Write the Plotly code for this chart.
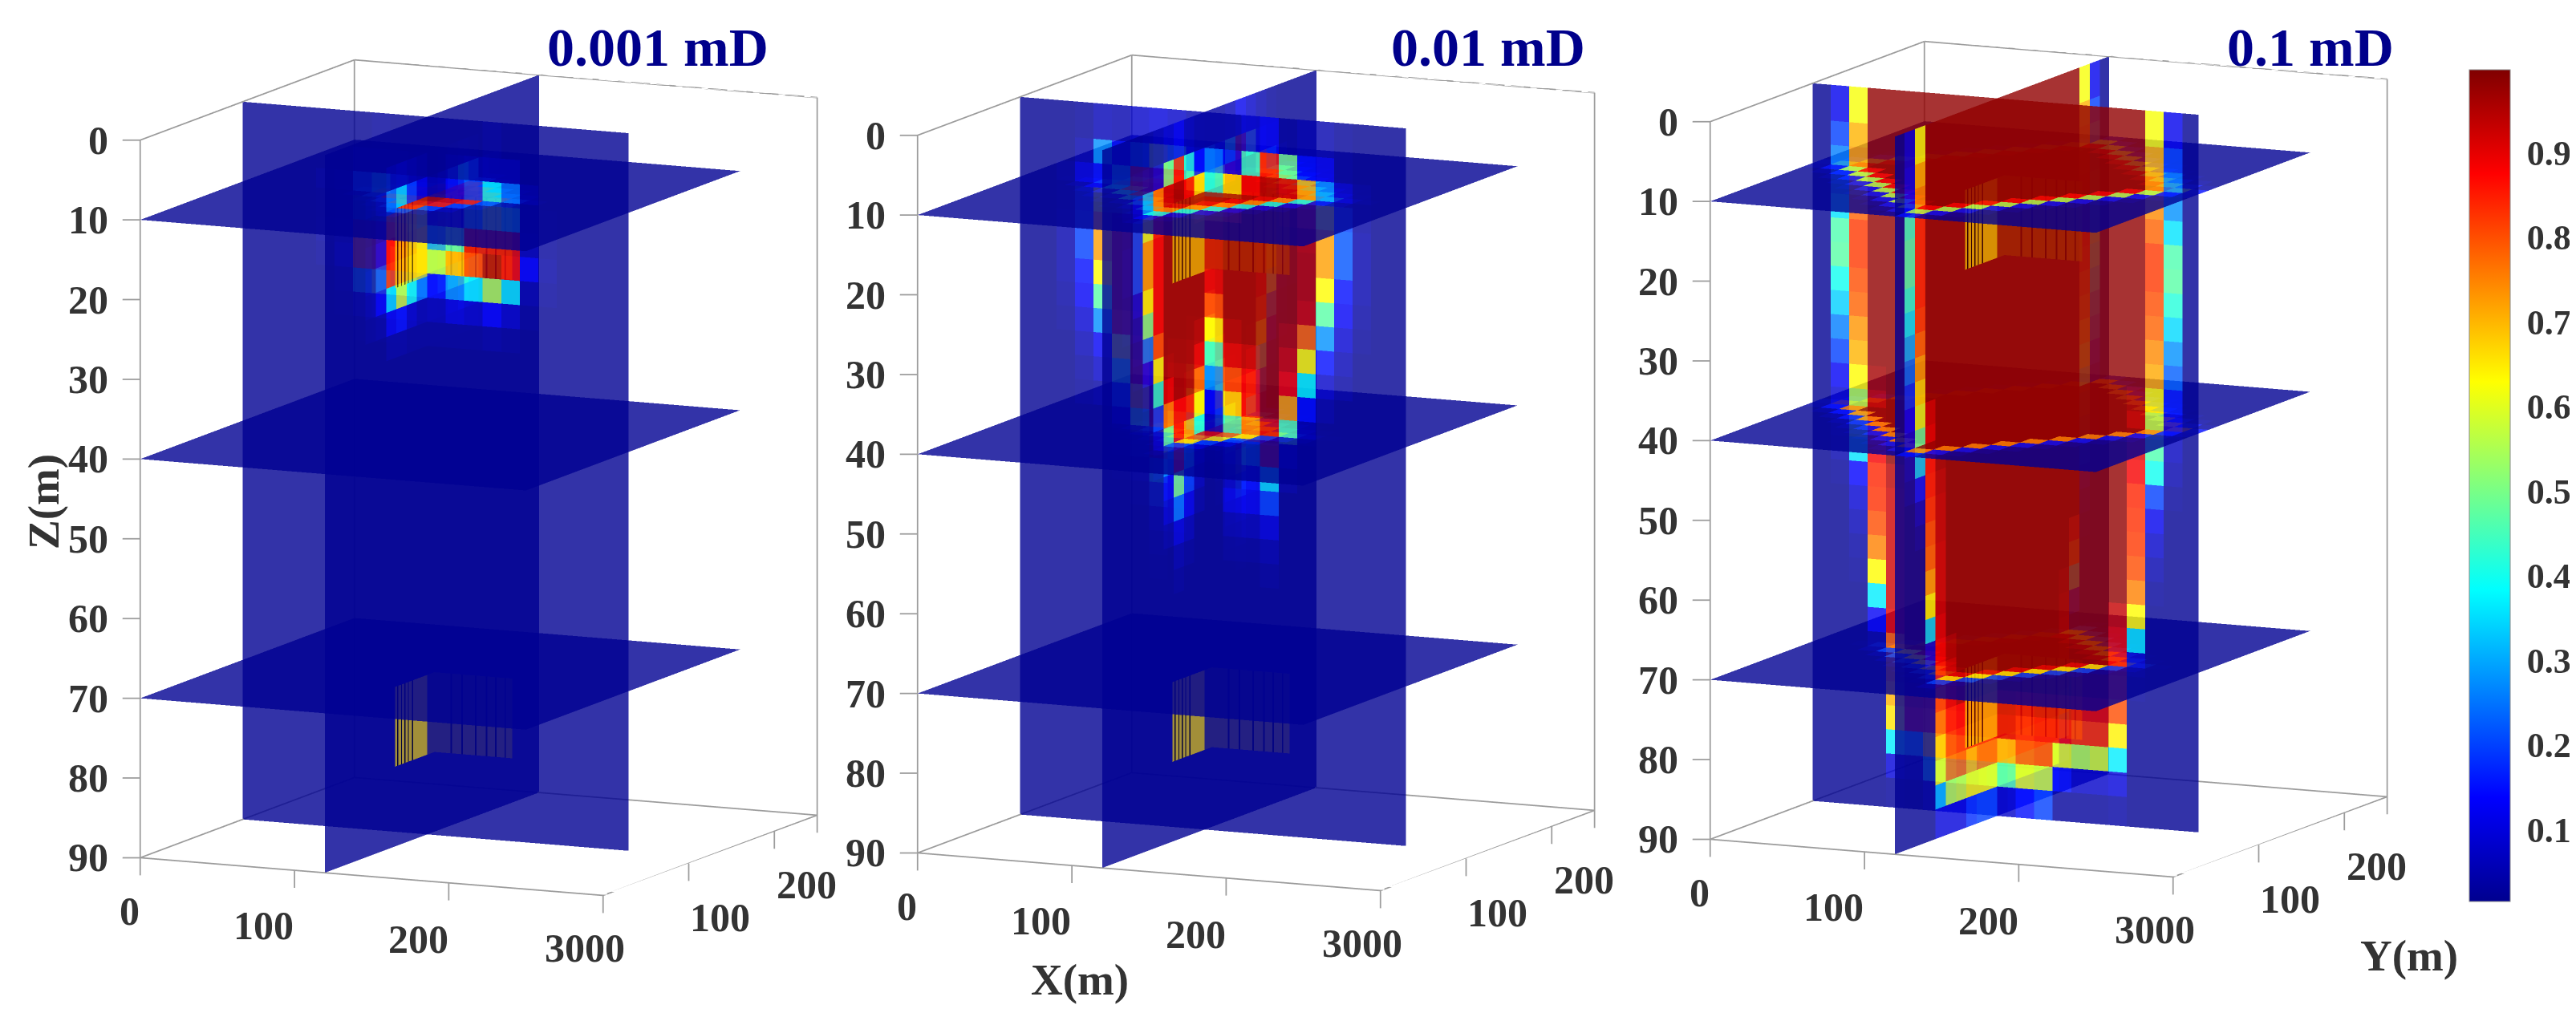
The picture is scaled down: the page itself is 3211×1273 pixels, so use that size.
import numpy as np
import plotly.graph_objects as go

# Tick values of the three boxes
x_ticks = [0, 100, 200, 300]
y_ticks = [0, 100, 200]
z_ticks = [0, 10, 20, 30, 40, 50, 60, 70, 80, 90]
colorbar_ticks = [0.1, 0.2, 0.3, 0.4, 0.5, 0.6, 0.7, 0.8, 0.9]
panel_titles = ["0.001 mD", "0.01 mD", "0.1 mD"]

# Model cells and slice positions (m)
x_edges = [0, 11.6] + [11.6 + 12 * k for k in range(1, 20)] + [250]
y_edges = list(x_edges)
z_edges = [0] + [4.5 + 3.03 * k for k in range(28)] + [90]
slice_x = 119.6
slice_y = 119.6
slice_z = [10, 40, 70]

# Saturation in percent, read cell by cell. Vertical slices are one list per
# column from the top row down, short lists continue with the 2% background.
p1_y_slice = [
    [], [], [], [],
    [2, 2, 3, 3, 4, 3],
    [2, 2, 4, 5, 8, 12, 5, 3],
    [2, 5, 22, 35, 80, 80, 30, 8, 3],
    [3, 5, 30, 45, 85, 85, 50, 12, 4],
    [2, 4, 18, 30, 85, 75, 35, 8, 3],
    [2, 3, 12, 15, 45, 62, 25, 6, 3],
    [2, 2, 5, 12, 30, 55, 15, 6, 3],
    [2, 3, 12, 15, 45, 70, 28, 10, 3],
    [2, 4, 20, 30, 90, 82, 38, 8, 3],
    [3, 5, 38, 50, 90, 95, 55, 14, 4],
    [2, 5, 25, 40, 90, 88, 36, 8, 3],
    [2, 2, 4, 5, 6, 14, 5, 3],
    [2, 2, 2, 3, 3, 4, 3],
    [], [], [], [],
]
p1_x_slice = [
    [], [], [], [],
    [2, 2, 3, 3, 4, 5, 4, 3],
    [2, 2, 5, 8, 12, 20, 12, 4],
    [2, 4, 25, 80, 87, 85, 35, 12, 4],
    [2, 5, 35, 85, 85, 80, 58, 15, 4],
    [2, 4, 20, 70, 75, 70, 40, 8, 3],
    [2, 3, 10, 45, 65, 65, 25, 5, 3],
    [2, 2, 5, 12, 30, 55, 15, 6, 3],
    [2, 3, 10, 45, 65, 65, 25, 5, 3],
    [2, 4, 20, 70, 75, 70, 40, 8, 3],
    [2, 5, 35, 85, 85, 80, 58, 15, 4],
    [2, 4, 25, 80, 87, 85, 35, 12, 4],
    [2, 2, 5, 8, 12, 20, 12, 4],
    [2, 2, 3, 3, 4, 5, 4, 3],
    [], [], [], [],
]
p2_y_slice = [
    [], [],
    [2, 2, 3, 4, 5, 5, 5, 4, 3],
    [3, 5, 10, 18, 20, 20, 15, 13, 9, 6, 4, 3],
    [6, 28, 15, 60, 72, 72, 63, 47, 28, 13, 8, 4],
    [5, 15, 30, 60, 90, 90, 90, 90, 85, 60, 42, 22, 10, 5, 3],
    [8, 25, 85, 95, 97, 97, 97, 97, 95, 92, 88, 70, 47, 20, 8, 4],
    [10, 55, 90] + [97] * 9 + [90, 85, 35, 20, 10, 5, 3],
    [8, 45, 88] + [97] * 6 + [93, 88, 86, 74, 28, 12, 8, 5],
    [5, 15, 65, 85, 97, 97, 97, 97, 95, 90, 80, 65, 42, 10, 5],
    [4, 25, 42, 80, 93, 93, 90, 80, 63, 45, 28, 13, 7, 3],
    [4, 12, 65, 85, 97, 97, 97, 97, 95, 90, 80, 65, 45, 10, 6, 10, 5, 3],
    [8, 42, 88] + [97] * 6 + [93, 88, 86, 74, 30, 15, 12, 6, 3],
    [12, 85, 95] + [97] * 9 + [90, 85, 35, 20, 10, 5, 3],
    [3, 50, 92, 95, 97, 97, 97, 97, 95, 92, 88, 72, 47, 10, 4],
    [5, 15, 72, 85, 93, 94, 94, 92, 78, 63, 38, 15, 5, 3],
    [5, 12, 28, 60, 72, 72, 63, 47, 28, 15, 8, 4],
    [3, 3, 8, 20, 22, 22, 15, 13, 9, 6, 4],
    [2, 2, 3, 4, 5, 5, 5, 4, 3],
    [], [],
]
p2_x_slice = [
    [], [],
    [2, 2, 3, 3, 4, 4, 3, 3],
    [2, 3, 8, 20, 20, 20, 10, 6, 4, 3],
    [3, 5, 30, 60, 72, 72, 63, 50, 25, 12, 5, 3],
    [5, 10, 75, 85, 88, 88, 88, 88, 80, 62, 42, 20, 8, 4],
    [8, 50, 92, 95, 97, 97, 97, 97, 97, 96, 90, 75, 48, 25, 12, 8, 4],
    [12, 85, 96] + [97] * 8 + [88, 87, 85, 50, 25, 10, 5, 3],
    [6, 42, 88] + [97] * 7 + [96, 88, 72, 30, 20, 12, 6, 3],
    [4, 15, 66, 85, 97, 97, 97, 97, 95, 90, 77, 63, 42, 10, 6, 4],
    [4, 25, 42, 80, 93, 93, 90, 80, 63, 45, 28, 13, 7, 3],
    [4, 15, 66, 85, 97, 97, 97, 97, 95, 90, 77, 63, 42, 10, 6, 4],
    [6, 42, 88] + [97] * 7 + [96, 88, 72, 30, 20, 12, 6, 3],
    [12, 85, 96] + [97] * 8 + [88, 87, 85, 50, 25, 10, 5, 3],
    [8, 50, 92, 95, 97, 97, 97, 97, 97, 96, 90, 75, 48, 25, 12, 8, 4],
    [5, 10, 75, 85, 88, 88, 88, 88, 80, 62, 42, 20, 8, 4],
    [3, 5, 30, 60, 72, 72, 63, 50, 25, 12, 5, 3],
    [2, 3, 8, 20, 20, 20, 10, 6, 4, 3],
    [2, 2, 3, 3, 4, 4, 3, 3],
    [], [],
]
p3_y_slice = [
    [],
    [12, 20, 26, 30, 36, 46, 47, 40, 34, 26, 20, 13, 9, 7, 5, 3],
    [62, 70, 72, 74, 78, 82, 82, 80, 78, 73, 70, 63, 55, 46, 36, 14, 9, 6, 4, 3],
    [98] * 11 + [96, 93, 91, 88, 84, 83, 80, 75, 63, 37, 13, 4],
    [98] * 15 + [94, 92, 92, 92, 92, 92, 90, 78, 75, 70, 65, 37, 10, 3],
    [98] * 24 + [92, 88, 30, 6],
    [98] * 24 + [90, 85, 65, 35, 8],
    [98] * 24 + [90, 85, 65, 35, 8],
    [98] * 24 + [90, 85, 65, 35, 8],
    [98] * 24 + [92, 90, 70, 42, 8],
    [98] * 24 + [92, 90, 70, 47, 8],
    [98] * 24 + [90, 85, 80, 60, 15, 3],
    [98] * 24 + [92, 88, 82, 58, 20, 3],
    [98] * 24 + [92, 88, 60, 15, 3],
    [98] * 23 + [95, 90, 83, 55, 8, 3],
    [98] * 23 + [95, 90, 83, 58, 8, 3],
    [98] * 20 + [93, 90, 88, 85, 80, 64, 37, 10, 4],
    [98] * 11 + [96, 93, 91, 88, 84, 83, 82, 80, 75, 63, 36, 8, 3],
    [62, 70, 72, 74, 78, 82, 82, 80, 78, 74, 71, 63, 55, 46, 40, 20, 12, 8, 5, 3],
    [12, 20, 26, 28, 36, 46, 47, 42, 35, 28, 23, 16, 10, 7, 5, 3],
    [],
]
p3_x_slice = [
    [],
    [10, 12, 14, 44, 46, 46, 42, 36, 30, 24, 18, 14, 10, 6, 4],
    [62, 70, 74, 84, 84, 84, 84, 82, 78, 72, 66, 60, 48, 33, 15, 7, 4],
    [98] * 11 + [92, 90, 86, 85, 83, 80, 78, 72, 63, 35, 10, 4],
    [98] * 13 + [96, 94, 93, 93, 92, 92, 92, 90, 88, 85, 80, 75, 68, 62, 32, 10, 3],
    [98] * 21 + [95, 92, 90, 85, 82, 78, 56, 10, 3],
    [98] * 23 + [95, 88, 85, 80, 58, 10, 3],
    [98] * 24 + [90, 85, 72, 63, 18, 3],
    [98] * 24 + [90, 85, 78, 63, 20, 3],
    [98] * 24 + [90, 85, 78, 62, 20, 3],
    [98] * 24 + [92, 90, 70, 47, 8],
    [98] * 24 + [90, 88, 75, 55, 15, 3],
    [98] * 24 + [90, 88, 75, 55, 15, 3],
    [98] * 24 + [90, 88, 75, 55, 15, 3],
    [98] * 24 + [90, 88, 75, 55, 15, 3],
    [98] * 24 + [90, 88, 75, 55, 15, 3],
    [98] * 20 + [93, 90, 88, 85, 80, 64, 37, 10, 4],
    [98] * 18 + [85, 75, 45, 15, 4],
    [62, 70, 72, 78, 82, 84, 84, 82, 78, 74, 68, 60, 52, 45, 35, 20, 10, 6, 3],
    [12, 20, 26, 30, 36, 46, 47, 42, 35, 28, 23, 16, 10, 7, 5, 3],
    [],
]

# Horizontal slices: the coloured rows around the middle of the grid, front to back
p1_z10 = [
    [5], [5, 20, 5], [5, 20, 85, 20, 5], [5, 20, 85, 90, 85, 20, 5],
    [5, 20, 85, 90, 95, 90, 85, 20, 5], [5, 20, 85, 90, 95, 95, 95, 90, 85, 20, 5],
    [5, 20, 85, 90, 95, 90, 85, 20, 5], [5, 20, 85, 90, 85, 20, 5], [5, 20, 85, 20, 5],
    [5, 20, 5], [5],
]
p1_z40 = []
p1_z70 = []
p2_z10 = [
    [4], [4, 12, 4], [4, 12, 40, 12, 4], [4, 12, 40, 74, 40, 12, 4],
    [4, 12, 40, 74, 90, 74, 40, 12, 4], [4, 12, 40, 74, 90, 96, 90, 74, 40, 12, 4],
    [4, 12, 40, 74, 90] + [96] * 3 + [90, 74, 40, 12, 4],
    [4, 12, 40, 74, 90] + [96] * 5 + [90, 74, 40, 12, 4],
    [4, 12, 40, 74, 90] + [96] * 7 + [90, 74, 40, 12, 4],
    [4, 12, 40, 74, 90] + [96] * 5 + [90, 74, 40, 12, 4],
    [4, 12, 40, 74, 90] + [96] * 3 + [90, 74, 40, 12, 4],
    [4, 12, 40, 74, 90, 96, 90, 74, 40, 12, 4],
    [4, 12, 40, 74, 90, 74, 40, 12, 4], [4, 12, 40, 74, 40, 12, 4], [4, 12, 40, 12, 4],
    [4, 12, 4], [4],
]
p2_z40 = [
    [3], [3, 8, 3], [3, 8, 20, 8, 3], [3, 8, 20, 65, 20, 8, 3],
    [3, 8, 20, 65, 80, 65, 20, 8, 3], [3, 8, 20, 65, 80, 90, 80, 65, 20, 8, 3],
    [3, 8, 20, 65, 80, 90, 90, 90, 80, 65, 20, 8, 3],
    [3, 8, 20, 65, 80, 90, 80, 65, 20, 8, 3], [3, 8, 20, 65, 80, 65, 20, 8, 3],
    [3, 8, 20, 65, 20, 8, 3], [3, 8, 20, 8, 3], [3, 8, 3], [3],
]
p2_z70 = []
p3_z10 = [
    [4, 15, 4], [4, 15, 55, 15, 4], [4, 15, 55, 88, 55, 15, 4],
    [4, 15, 55, 88, 98, 88, 55, 15, 4],
    [4, 15, 55, 88] + [98] * 3 + [88, 55, 15, 4],
    [4, 15, 55, 88] + [98] * 5 + [88, 55, 15, 4],
    [4, 15, 55, 88] + [98] * 7 + [88, 55, 15, 4],
    [4, 15, 55, 88] + [98] * 9 + [88, 55, 15, 4],
    [4, 15, 55, 88] + [98] * 11 + [88, 55, 15, 4],
    [4, 15, 55, 88] + [98] * 13 + [88, 55, 15, 4],
    [15, 55, 88] + [98] * 15 + [88, 55, 15],
    [4, 15, 55, 88] + [98] * 13 + [88, 55, 15, 4],
    [4, 15, 55, 88] + [98] * 11 + [88, 55, 15, 4],
    [4, 15, 55, 88] + [98] * 9 + [88, 55, 15, 4],
    [4, 15, 55, 88] + [98] * 7 + [88, 55, 15, 4],
    [4, 15, 55, 88] + [98] * 5 + [88, 55, 15, 4],
    [4, 15, 55, 88] + [98] * 3 + [88, 55, 15, 4],
    [4, 15, 55, 88, 98, 88, 55, 15, 4],
    [4, 15, 55, 88, 55, 15, 4], [4, 15, 55, 15, 4], [4, 15, 4],
]
p3_z40 = [
    [4, 15, 4], [4, 15, 75, 15, 4], [4, 15, 75, 98, 75, 15, 4],
    [4, 15, 75] + [98] * 3 + [75, 15, 4],
    [4, 15, 75] + [98] * 5 + [75, 15, 4],
    [4, 15, 75] + [98] * 7 + [75, 15, 4],
    [4, 15, 75] + [98] * 9 + [75, 15, 4],
    [4, 15, 75] + [98] * 11 + [75, 15, 4],
    [4, 15, 75] + [98] * 13 + [75, 15, 4],
    [4, 15, 75] + [98] * 15 + [75, 15, 4],
    [15, 75] + [98] * 17 + [75, 15],
    [4, 15, 75] + [98] * 15 + [75, 15, 4],
    [4, 15, 75] + [98] * 13 + [75, 15, 4],
    [4, 15, 75] + [98] * 11 + [75, 15, 4],
    [4, 15, 75] + [98] * 9 + [75, 15, 4],
    [4, 15, 75] + [98] * 7 + [75, 15, 4],
    [4, 15, 75] + [98] * 5 + [75, 15, 4],
    [4, 15, 75] + [98] * 3 + [75, 15, 4],
    [4, 15, 75, 98, 75, 15, 4], [4, 15, 75, 15, 4], [4, 15, 4],
]
p3_z70 = [
    [4], [4, 20, 4], [4, 20, 65, 20, 4], [4, 20, 65, 90, 65, 20, 4],
    [4, 20, 65, 90, 98, 90, 65, 20, 4],
    [4, 20, 65, 90] + [98] * 3 + [90, 65, 20, 4],
    [4, 20, 65, 90] + [98] * 5 + [90, 65, 20, 4],
    [4, 20, 65, 90] + [98] * 7 + [90, 65, 20, 4],
    [4, 20, 65, 90] + [98] * 9 + [90, 65, 20, 4],
    [4, 20, 65, 90] + [98] * 7 + [90, 65, 20, 4],
    [4, 20, 65, 90] + [98] * 5 + [90, 65, 20, 4],
    [4, 20, 65, 90] + [98] * 3 + [90, 65, 20, 4],
    [4, 20, 65, 90, 98, 90, 65, 20, 4],
    [4, 20, 65, 90, 65, 20, 4], [4, 20, 65, 20, 4], [4, 20, 4], [4],
]

# Striped fracture ribbons: edges along the ribbon, 1 = yellow, 0 = black line
ribbon_depths = [[10, 20], [70, 80]]
ribbon_y_edges = [82, 84.5, 85.7, 89, 90.2, 93, 94.2, 97, 98.2, 102, 103.2, 128]
ribbon_y_flags = [1, 0, 1, 0, 1, 0, 1, 0, 1, 0, 1]
ribbon_x_edges = [119.6, 130, 131, 137, 138, 146, 147, 153, 154, 159, 160, 165, 166, 170]
ribbon_x_flags = [1, 0, 1, 0, 1, 0, 1, 0, 1, 0, 1, 0, 1]

JET = [[0, "#00008f"], [0.125, "#0000ff"], [0.375, "#00ffff"],
       [0.625, "#ffff00"], [0.875, "#ff0000"], [1, "#800000"]]
STRIPE = [[0, "#000000"], [1, "#ffe000"]]
FONT = "Liberation Serif"
FLAT = dict(ambient=1, diffuse=0, specular=0, roughness=1, fresnel=0)


def vertical_grid(cols):
    return np.array([(c + [2] * 30)[:30] for c in cols], dtype=float) / 100


def horizontal_grid(rows):
    grid = np.full((21, 21), 2.0)
    top = (21 - len(rows)) // 2
    for j, row in enumerate(rows):
        left = (21 - len(row)) // 2
        grid[top + j, left:left + len(row)] = row
    return grid / 100


def cell_mesh(u_edges, v_edges, vals, to_xyz, u_lim, v_lim, **kw):
    # one quad per clipped cell, coloured by its own value
    xs, ys, zs, i, j, k, cell = [], [], [], [], [], [], []
    for a in range(len(u_edges) - 1):
        u0, u1 = max(u_edges[a], u_lim[0]), min(u_edges[a + 1], u_lim[1])
        if u1 <= u0:
            continue
        for b in range(len(v_edges) - 1):
            v0, v1 = max(v_edges[b], v_lim[0]), min(v_edges[b + 1], v_lim[1])
            if v1 <= v0:
                continue
            n = len(xs)
            for u, v in [(u0, v0), (u1, v0), (u1, v1), (u0, v1)]:
                px, py, pz = to_xyz(u, v)
                xs.append(px)
                ys.append(py)
                zs.append(pz)
            i += [n, n]
            j += [n + 1, n + 2]
            k += [n + 2, n + 3]
            cell += [vals[a][b], vals[a][b]]
    return go.Mesh3d(x=xs, y=ys, z=zs, i=i, j=j, k=k, intensity=cell, intensitymode="cell",
                     lighting=FLAT, flatshading=True, hoverinfo="skip", **kw)


def panel_pieces(x_cols, y_cols, z_rows):
    # painter's order: camera sits at +x, -y and above, so transparent pieces
    # are sorted back to front over the slices that split them
    jet = dict(colorscale=JET, cmin=0.015, cmax=0.998, opacity=0.8, showscale=False)
    stripe = dict(colorscale=STRIPE, cmin=0, cmax=1, opacity=0.62, showscale=False)
    pieces = []
    z_bands = [[0, slice_z[0]], [slice_z[0], slice_z[1]], [slice_z[1], slice_z[2]], [slice_z[2], 90]]
    x_parts = [(0, [0, slice_x]), (2, [slice_x, 250])]
    y_parts = [(2, [0, slice_y]), (0, [slice_y, 250])]

    x_vals = vertical_grid(x_cols)
    y_vals = vertical_grid(y_cols)
    for band in z_bands:
        depth = sum(band) / 2
        for y_side, y_lim in y_parts:
            m = cell_mesh(y_edges, z_edges, x_vals, lambda u, v: (slice_x, u, -v), y_lim, band, **jet)
            pieces.append(((y_side, 1, -depth), m))
        for x_side, x_lim in x_parts:
            m = cell_mesh(x_edges, z_edges, y_vals, lambda u, v: (u, slice_y, -v), x_lim, band, **jet)
            pieces.append(((1, x_side, -depth), m))
    for level, rows in zip(slice_z, z_rows):
        vals = horizontal_grid(rows).T
        for y_side, y_lim in y_parts:
            for x_side, x_lim in x_parts:
                m = cell_mesh(x_edges, y_edges, vals, lambda u, v, h=level: (u, v, -h), x_lim, y_lim, **jet)
                pieces.append(((y_side, x_side, -level), m))

    for band in ribbon_depths:
        depth = sum(band) / 2
        flags = [[f, f] for f in ribbon_y_flags]
        for y_side, y_lim in [(2, [0, slice_y]), (0, [slice_y, 250])]:
            m = cell_mesh(ribbon_y_edges, band, flags, lambda u, v: (slice_x, u, -v), y_lim, band, **stripe)
            pieces.append(((y_side, 1.5, -depth), m))
        flags = [[f, f] for f in ribbon_x_flags]
        m = cell_mesh(ribbon_x_edges, band, flags, lambda u, v: (u, 128, -v), [0, 250], band, **stripe)
        pieces.append(((0, 2, -depth), m))

    pieces.sort(key=lambda p: p[0])
    return [p[1] for p in pieces]


def frame_trace():
    # box edges and tick marks, from the axis ranges and tick arrays
    x1, y1, z1 = x_ticks[-1], 250, -z_ticks[-1]
    edges = [
        [(0, 0, 0), (0, 0, z1)], [(0, 0, z1), (x1, 0, z1)], [(x1, 0, z1), (x1, y1, z1)],
        [(0, 0, z1), (0, y1, z1)], [(0, y1, z1), (x1, y1, z1)], [(0, y1, 0), (0, y1, z1)],
        [(x1, y1, 0), (x1, y1, z1)], [(0, 0, 0), (0, y1, 0)], [(0, y1, 0), (x1, y1, 0)],
    ]
    for t in z_ticks:
        edges.append([(0, 0, -t), (-9.4, -3.7, -t)])
    for t in x_ticks:
        edges.append([(t, 0, z1), (t, 0, z1 - 2.2)])
    for t in y_ticks + [250]:
        edges.append([(x1, t, z1), (x1, t, z1 - 2.2)])
    xs, ys, zs = [], [], []
    for a, b in edges:
        xs += [a[0], b[0], None]
        ys += [a[1], b[1], None]
        zs += [a[2], b[2], None]
    return go.Scatter3d(x=xs, y=ys, z=zs, mode="lines", line=dict(color="#9c9c9c", width=3.5),
                        hoverinfo="skip", showlegend=False)


def tick_labels():
    font = dict(family=FONT, size=50, color="#333333", weight="bold")
    out = []
    z1 = -z_ticks[-1]
    for t in z_ticks:
        out.append(dict(x=0, y=0, z=-t, text=str(t), showarrow=False, xanchor="right", xshift=-38, font=font))
    for t, dx, dy in zip(x_ticks, [-13, -39, -38, -35], [-67, -69, -70, -66]):
        out.append(dict(x=t, y=0, z=z1, text=str(t), showarrow=False, xshift=dx, yshift=dy, font=font))
    for t, dx, dy in zip(y_ticks, [15, 39, 40], [-66, -68, -67]):
        out.append(dict(x=x_ticks[-1], y=t, z=z1, text=str(t), showarrow=False, xshift=dx, yshift=dy, font=font))
    return out


W, H = 3211, 1273
half_w, half_h = 480, 570
centers = [(577, 599), (1546, 593), (2534, 576)]
panels = [(p1_x_slice, p1_y_slice, [p1_z10, p1_z40, p1_z70]),
          (p2_x_slice, p2_y_slice, [p2_z10, p2_z40, p2_z70]),
          (p3_x_slice, p3_y_slice, [p3_z10, p3_z40, p3_z70])]

fig = go.Figure()
hidden = dict(visible=False, showgrid=False, zeroline=False, showspikes=False, showbackground=False)
layout = {}
for n, ((x_cols, y_cols, z_rows), (cx, cy)) in enumerate(zip(panels, centers), start=1):
    name = "scene" if n == 1 else f"scene{n}"
    fig.add_trace(frame_trace().update(scene=name))
    for mesh in panel_pieces(x_cols, y_cols, z_rows):
        fig.add_trace(mesh.update(scene=name))
    layout[name] = dict(
        domain=dict(x=[(cx - half_w) / W, (cx + half_w) / W],
                    y=[1 - (cy + half_h) / H, 1 - (cy - half_h) / H]),
        xaxis=dict(range=[-10, 300], **hidden),
        yaxis=dict(range=[-4, 250], **hidden),
        zaxis=dict(range=[-92.3, 0], **hidden),
        aspectmode="manual",
        aspectratio=dict(x=1.154, y=1.126, z=1.635),
        camera=dict(projection=dict(type="orthographic"),
                    up=dict(x=0, y=0, z=1), center=dict(x=0, y=0, z=0),
                    eye=dict(x=0.5726, y=-1.228, z=0.2404)),
        annotations=tick_labels(),
    )

# the colour bar hangs on an extra invisible mesh
fig.add_trace(go.Mesh3d(
    x=[0], y=[0], z=[0], i=[], j=[], k=[], intensity=[0.5], colorscale=JET, cmin=0.015, cmax=0.998,
    scene="scene3", hoverinfo="skip",
    colorbar=dict(
        x=3070 / W, xanchor="left", xpad=0, y=1 - 597.5 / H, yanchor="middle", ypad=0,
        thickness=51, thicknessmode="pixels", len=1037, lenmode="pixels",
        tickvals=colorbar_ticks, ticktext=[str(t) for t in colorbar_ticks],
        ticks="outside", ticklen=12, tickcolor="rgba(0,0,0,0)", outlinewidth=1, outlinecolor="#8a8a8a",
        tickfont=dict(family=FONT, size=44, color="#333333", weight="bold"),
    ),
))

annotations = []
for text, x in zip(panel_titles, [812, 1847, 2872]):
    annotations.append(dict(x=x / W, y=1 - 51 / H, xref="paper", yref="paper", text=text, showarrow=False,
                            xanchor="center", yanchor="middle",
                            font=dict(family=FONT, size=68, color="#00008b", weight="bold")))
label_font = dict(family=FONT, size=55, color="#333333", weight="bold")
annotations.append(dict(x=46 / W, y=1 - 618 / H, xref="paper", yref="paper", text="Z(m)", textangle=-90,
                        xanchor="center", yanchor="middle", showarrow=False, font=label_font))
annotations.append(dict(x=1338 / W, y=1 - 1213 / H, xref="paper", yref="paper", text="X(m)",
                        xanchor="center", yanchor="middle", showarrow=False, font=label_font))
annotations.append(dict(x=2995 / W, y=1 - 1183 / H, xref="paper", yref="paper", text="Y(m)",
                        xanchor="center", yanchor="middle", showarrow=False, font=label_font))

fig.update_layout(width=W, height=H, margin=dict(l=0, r=0, t=0, b=0), paper_bgcolor="white",
                  showlegend=False, annotations=annotations, **layout)

fig.write_html("out.html")
